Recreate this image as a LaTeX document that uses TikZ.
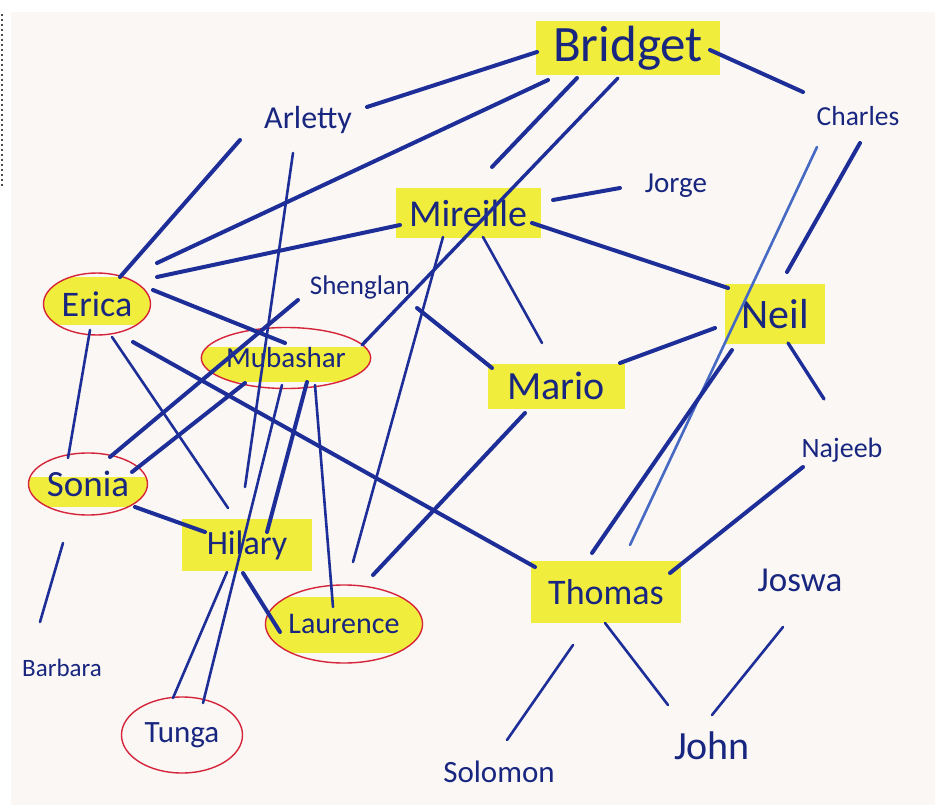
\documentclass[tikz,border=0pt]{standalone}
\usepackage{fontspec}
\setmainfont{Carlito}
\usetikzlibrary{shapes.geometric}
\definecolor{paper}{RGB}{250,247,244}
\definecolor{lnc}{RGB}{30,46,152}
\definecolor{lnlight}{RGB}{70,105,195}
\definecolor{txtc}{RGB}{24,38,128}
\definecolor{hlc}{RGB}{240,237,60}
\definecolor{redc}{RGB}{214,36,58}
\newcommand\lnk[5][]{\draw[ln,#1] ([shift={(#3)}]#2.center) -- ([shift={(#5)}]#4.center);}
\begin{document}
\begin{tikzpicture}[x=1pt,y=-1pt,
  ln/.style={draw=lnc, line width=4pt, line cap=round},
  thin/.style={line width=2.6pt},
  nm/.style={text=txtc, inner sep=0pt, font=\fontsize{#1pt}{#1pt}\selectfont},
  hl/.style n args={2}{fill=hlc, minimum width=#1, minimum height=#2},
  ring/.style n args={4}{ellipse, draw=redc, line width=1.4pt, minimum width=#1, minimum height=#2,
    path picture={\fill[hlc] ([yshift=#3]path picture bounding box.west) rectangle ([yshift=-#4]path picture bounding box.east);}},
  plainring/.style n args={2}{ellipse, draw=redc, line width=1.4pt, minimum width=#1, minimum height=#2},
]
\useasboundingbox (0,0) rectangle (935,805);
\fill[white] (0,0) rectangle (935,805);
\fill[paper] (11,12) rectangle (935,805);
\draw[black!70, line width=2pt, dash pattern=on 2pt off 3pt] (1.5,14) -- (1.5,186);

% nodes
\node[nm=51, hl={184pt}{54pt}] (bridget) at (628,48) {Bridget};
\node[nm=27.5] (charles) at (858,116) {Charles};
\node[nm=32] (arletty) at (308,120) {Arletty};
\node[nm=29] (jorge) at (676,186) {Jorge};
\node[nm=38, hl={145pt}{50pt}] (mireille) at (468,213) {Mireille};
\node[nm=36, ring={107pt}{62pt}{27pt}{21pt}] (erica) at (97,304) {Erica};
\node[nm=27] (shenglan) at (360,287) {Shenglan};
\node[nm=42, hl={100pt}{60pt}] (neil) at (775,314) {Neil};
\node[nm=29, ring={138pt}{61pt}{11pt}{24pt}] (mubashar) at (286,358) {Mubashar};
\node[nm=40, hl={137pt}{45pt}] (mario) at (556,386) {Mario};
\node[nm=28] (najeeb) at (842,450) {Najeeb};
\node[nm=37, ring={119pt}{62pt}{7pt}{23pt}] (sonia) at (88,484) {Sonia};
\node[nm=34, hl={130pt}{52pt}] (hilary) at (247,545) {Hilary};
\node[nm=36, hl={150pt}{62pt}] (thomas) at (606,592) {Thomas};
\node[nm=35] (joswa) at (800,580) {Joswa};
\node[nm=30, ring={145pt}{78pt}{27pt}{29pt}] (laurence) at (344,624) {Laurence};
\node[nm=25] (barbara) at (62,668) {Barbara};
\node[nm=31, plainring={121pt}{76pt}] (tunga) at (182,735) {Tunga};
\node[nm=31] (solomon) at (499,772) {Solomon};
\node[nm=40] (john) at (712,746) {John};

% connectors
\lnk{arletty}{59,-13}{bridget}{-91,4}
\lnk{erica}{60,-41}{bridget}{-80,32}
\lnk{mireille}{24,-46}{bridget}{-51,30}
\lnk[line width=3.4pt]{mubashar}{76,-13}{bridget}{-10,30}
\lnk{bridget}{82,2}{charles}{-55,-24}
\lnk{charles}{2,27}{neil}{12,-42}
\lnk[thin, draw=lnlight]{charles}{-41,31}{thomas}{24,-47}
\lnk{mireille}{85,-13}{jorge}{-56,2}
\lnk{erica}{60,-27}{mireille}{-68,12}
\lnk{mireille}{64,10}{neil}{-47,-26}
\lnk[thin]{mireille}{15,24}{mario}{-14,-43}
\lnk[thin]{mireille}{-25,24}{laurence}{9,-62}
\lnk{arletty}{-68,20}{erica}{23,-27}
\lnk[thin]{arletty}{-15,33}{hilary}{-2,-58}
\lnk{erica}{56,-14}{mubashar}{-1,-15}
\lnk[thin]{erica}{-7,26}{sonia}{-20,-26}
\lnk[thin]{erica}{15,33}{hilary}{-19,-37}
\lnk{erica}{36,38}{thomas}{-71,-25}
\lnk{shenglan}{-62,13}{sonia}{22,-27}
\lnk{shenglan}{57,21}{mario}{-64,-18}
\lnk{mubashar}{-41,25}{sonia}{44,-12}
\lnk{mubashar}{21,24}{hilary}{20,-13}
\lnk[thin]{mubashar}{-4,27}{tunga}{21,-32}
\lnk[thin]{mubashar}{29,27}{laurence}{-11,-17}
\lnk[thin]{hilary}{-20,27}{tunga}{-9,-37}
\lnk{hilary}{-4,28}{laurence}{-64,8}
\lnk{sonia}{47,23}{hilary}{-42,-13}
\lnk[thin]{sonia}{-25,59}{barbara}{-22,-46}
\lnk{mario}{64,-23}{neil}{-60,14}
\lnk{mario}{-31,27}{laurence}{29,-49}
\lnk{neil}{-43,36}{thomas}{-14,-39}
\lnk[line width=3.4pt]{neil}{13,29}{najeeb}{-18,-51}
\lnk{thomas}{64,-19}{najeeb}{-39,17}
\lnk[thin]{thomas}{-33,53}{solomon}{8,-32}
\lnk[thin]{thomas}{-1,31}{john}{-44,-41}
\lnk[thin]{joswa}{-17,47}{john}{0,-31}
\end{tikzpicture}
\end{document}
